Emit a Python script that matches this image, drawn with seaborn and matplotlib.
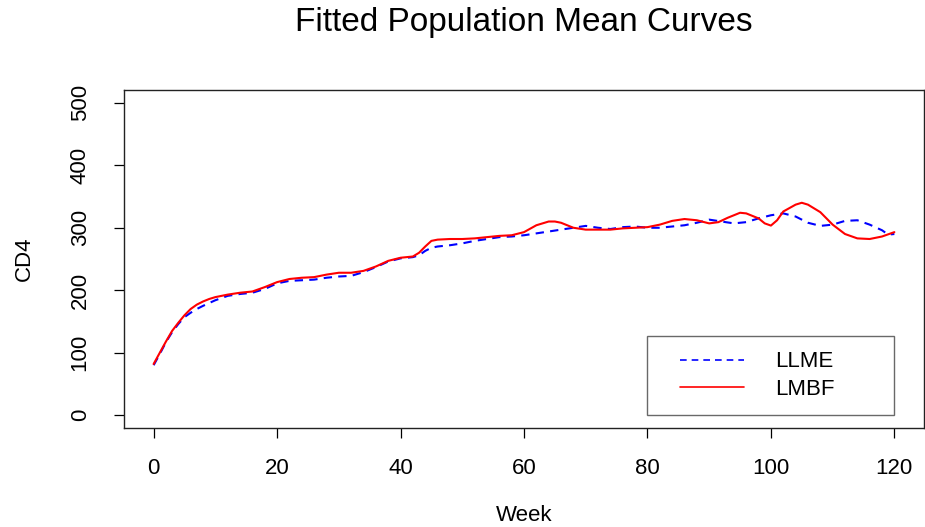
import matplotlib
matplotlib.use("Agg")
import matplotlib.pyplot as plt
import seaborn as sns
import pandas as pd
from matplotlib.lines import Line2D
from matplotlib.legend_handler import HandlerLine2D

# values
week_llme = [0, 1, 2, 3, 4, 5, 6, 7, 8, 10, 12, 14, 16, 18, 20, 22, 24, 26, 28, 30,
             32, 34, 36, 38, 40, 42, 43, 44, 45, 46, 48, 50, 52, 54, 56, 58, 60, 62,
             64, 66, 68, 70, 72, 74, 76, 78, 80, 82, 84, 86, 88, 90, 92, 94, 96, 98,
             100, 102, 104, 106, 108, 110, 112, 114, 116, 118, 119, 120]
cd4_llme = [80, 98, 117, 133, 146, 157, 164, 170, 175, 184, 191, 194, 196, 202, 211,
            215, 216, 217, 220, 222, 223, 229, 237, 246, 251, 253, 256, 263, 268, 270,
            272, 275, 279, 282, 285, 286, 288, 291, 294, 297, 300, 303, 300, 298, 301,
            302, 300, 300, 302, 304, 308, 313, 310, 307, 309, 315, 320, 323, 318, 308,
            303, 305, 311, 312, 305, 296, 289, 290]

week_lmbf = [0, 1, 2, 3, 4, 5, 6, 7, 8, 9, 10, 12, 14, 16, 18, 20, 22, 24, 26, 28, 30,
             32, 34, 36, 38, 40, 42, 43, 44, 45, 46, 48, 50, 52, 54, 56, 58, 60, 62,
             64, 65, 66, 68, 70, 72, 74, 76, 78, 80, 82, 84, 86, 88, 90, 91.5, 93, 95,
             96, 98, 99, 100, 101, 102, 104, 105, 106, 108, 110, 112, 114, 116, 118, 120]
cd4_lmbf = [82, 100, 118, 135, 148, 160, 170, 177, 182, 186, 189, 193, 196, 198, 205,
            213, 218, 220, 221, 225, 228, 228, 231, 238, 247, 252, 254, 260, 270, 279,
            281, 282, 282, 283, 285, 287, 288, 293, 304, 310, 310, 308, 300, 297, 297,
            297, 299, 300, 301, 305, 311, 314, 312, 307, 309, 316, 324, 323, 315, 307,
            303.5, 312, 326, 337, 340, 337, 325, 305, 290, 283, 282, 286, 293]

x_ticks = [0, 20, 40, 60, 80, 100, 120]
y_ticks = [0, 100, 200, 300, 400, 500]

df = pd.concat([
    pd.DataFrame({"Week": week_llme, "CD4": cd4_llme, "Model": "LLME"}),
    pd.DataFrame({"Week": week_lmbf, "CD4": cd4_lmbf, "Model": "LMBF"}),
])

sns.set_style("ticks")
plt.rcParams["font.family"] = ["Liberation Sans", "DejaVu Sans"]
plt.rcParams["text.color"] = "black"
plt.rcParams["axes.labelcolor"] = "black"
plt.rcParams["xtick.color"] = "black"
plt.rcParams["ytick.color"] = "black"

fig = plt.figure(figsize=(9.25, 5.27), dpi=100)
ax = fig.add_axes([124 / 925, 1 - 427.7 / 527, 800 / 925, 337.4 / 527])

sns.lineplot(data=df, x="Week", y="CD4", hue="Model", style="Model",
             palette={"LLME": "blue", "LMBF": "red"},
             dashes={"LLME": (4, 3), "LMBF": ""},
             linewidth=1.5, ax=ax, legend=False)

ax.set_xlim(-4.8, 124.8)
ax.set_ylim(-20, 520)
ax.set_xticks(x_ticks)
ax.set_yticks(y_ticks)
ax.tick_params(axis="both", labelsize=16, length=7, width=0.9)
ax.tick_params(axis="x", pad=15)
ax.tick_params(axis="y", pad=17)
for lab in ax.get_yticklabels():
    lab.set_rotation(90)
    lab.set_va("center")
for sp in ax.spines.values():
    sp.set_visible(True)
    sp.set_linewidth(1.0)
    sp.set_color("#222222")

ax.set_xlabel("Week", fontsize=16)
ax.set_ylabel("CD4", fontsize=16)
ax.xaxis.set_label_coords(0.5, -0.26)
ax.xaxis.label.set_va("center")
ax.yaxis.set_label_coords(-0.125, 0.5)
ax.yaxis.label.set_va("center")

# title centred over the plot box
ax.text(0.5, (427.7 - 22) / 337.4, "Fitted Population Mean Curves", fontsize=24,
        ha="center", va="center", transform=ax.transAxes)

# legend box, bottom right corner at (120, 0)
handles = [Line2D([], [], color="blue", lw=1.2, dashes=(4, 3)),
           Line2D([], [], color="red", lw=1.2)]
leg = ax.legend(handles, ["LLME", "LMBF"], loc="lower right",
                bbox_to_anchor=(80, 0, 40, 126), bbox_transform=ax.transData,
                mode="expand", borderaxespad=0, fontsize=16, frameon=True,
                fancybox=False, handlelength=3.64, handletextpad=1.4,
                labelspacing=0.28, borderpad=0.7,
                handler_map={Line2D: HandlerLine2D(xpad=0.75)})
leg.get_frame().set_edgecolor("#444444")
leg.get_frame().set_linewidth(1.0)

fig.savefig("out.png", dpi=100)
